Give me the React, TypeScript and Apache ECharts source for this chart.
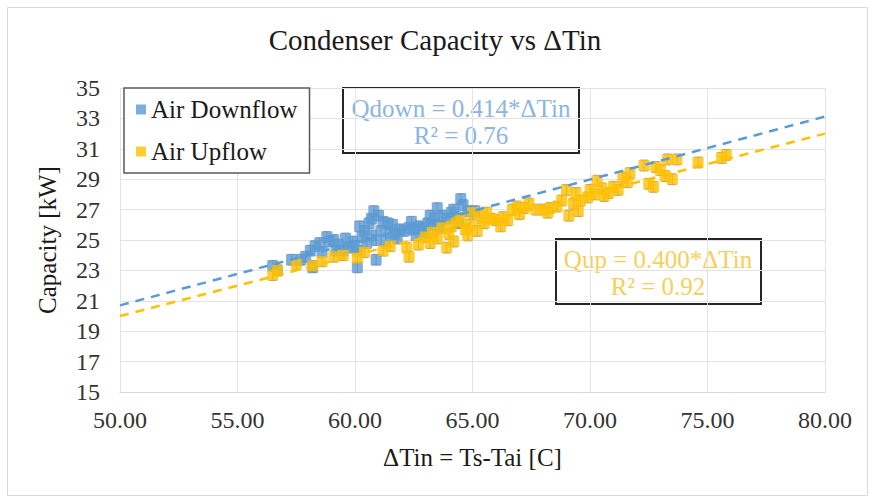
import React, { useEffect, useRef } from "react";
import * as echarts from "echarts";

// Measured condenser capacity [kW] against inlet temperature difference ΔTin [C]
const downflowPoints: [number, number][] = [
  [56.5, 23.3], [56.7, 23.0], [57.3, 23.7], [57.7, 23.7], [57.9, 23.9], [58.1, 24.3],
  [58.2, 23.2], [58.3, 24.6], [58.5, 24.8], [58.8, 25.2], [58.9, 24.9], [59.1, 25.0],
  [59.3, 24.7], [59.5, 24.3], [59.7, 24.5], [59.9, 24.9], [60.1, 23.2], [60.1, 24.3],
  [60.2, 25.9], [60.4, 25.6], [60.6, 26.1], [60.7, 26.4], [60.8, 26.9], [61.0, 26.6],
  [60.9, 23.7], [61.1, 25.6], [61.2, 26.2], [61.4, 26.1], [61.5, 25.5], [61.7, 25.4],
  [61.9, 25.7], [62.1, 25.6], [62.3, 25.8], [62.5, 25.7], [62.7, 25.9], [62.9, 25.8],
  [63.1, 26.1], [63.3, 26.0], [63.4, 26.4], [63.5, 27.1], [63.7, 26.6], [63.9, 26.4],
  [64.1, 26.8], [64.3, 26.5], [64.5, 27.7], [64.6, 27.3], [64.8, 26.9], [65.1, 26.9],
  [59.6, 25.1], [60.3, 25.2], [61.6, 26.0], [62.4, 26.2], [63.2, 26.6], [64.2, 27.0],
  [58.6, 24.2], [59.2, 24.3], [60.0, 24.6], [60.5, 24.8], [60.7, 25.3], [60.9, 25.0],
  [61.3, 24.9], [61.8, 25.1], [62.6, 25.3], [63.0, 25.5], [63.6, 25.9], [64.4, 26.1],
];

const upflowPoints: [number, number][] = [
  [56.5, 22.7], [56.7, 23.0], [57.5, 23.4], [58.2, 23.3], [58.6, 23.6], [59.1, 23.9],
  [59.5, 24.0], [60.1, 23.8], [60.4, 24.2], [61.2, 24.3], [61.5, 24.6], [62.2, 24.5],
  [62.3, 23.9], [63.0, 25.2], [63.3, 25.5], [63.5, 25.1], [63.7, 25.8], [63.9, 24.5],
  [64.1, 25.9], [64.3, 26.2], [64.5, 26.3], [64.7, 25.7], [64.9, 26.0], [65.0, 26.8],
  [65.3, 26.6], [65.6, 26.8], [65.8, 26.4], [66.0, 26.3], [66.3, 26.5], [66.5, 26.3],
  [66.7, 27.0], [66.9, 27.2], [67.2, 27.1], [67.4, 27.4], [67.7, 27.0], [68.0, 27.0],
  [68.3, 27.1], [68.6, 27.2], [68.8, 27.6], [69.0, 28.3], [69.1, 26.6], [69.3, 27.4],
  [69.4, 28.1], [69.6, 27.6], [69.9, 27.8], [70.0, 28.3], [70.2, 28.0], [70.3, 28.9],
  [70.5, 28.4], [70.8, 28.1], [71.0, 28.5], [71.2, 28.3], [71.4, 29.1], [71.6, 28.8],
  [71.7, 29.4], [72.3, 29.9], [72.5, 28.7], [72.7, 28.5], [72.8, 29.8], [73.0, 29.6],
  [73.2, 29.2], [73.3, 30.3], [73.5, 29.0], [73.7, 30.3], [74.6, 30.1], [75.6, 30.4],
  [75.8, 30.6], [64.0, 25.4], [65.5, 26.1], [67.0, 26.7], [68.2, 26.8], [70.6, 27.9],
  [62.7, 24.7], [63.2, 24.8], [64.2, 24.9], [64.8, 25.3], [65.2, 25.6], [66.2, 25.9],
  [69.5, 26.9],
];

// Measurement uncertainty on capacity [kW], drawn as error-bar caps
const capacityError = 0.35;

// Fitted trend lines through the origin: Q = slope * ΔTin
const downflowSlope = 0.414;
const upflowSlope = 0.4;
const downflowR2 = "0.76";
const upflowR2 = "0.92";
const trendRange = [50, 80];

const xTicks = { min: 50, max: 80, interval: 5 };
const yTicks = { min: 15, max: 35, interval: 2 };

const BLUE = "#5b9bd5";
const ORANGE = "#ffc000";
const FONT = "Liberation Serif";

// Custom series drawing short caps above and below each point
function errorCaps(points: [number, number][], z: number) {
  return {
    type: "custom",
    silent: true,
    z,
    data: points.map(([x, y]) => [x, y - capacityError, y + capacityError]),
    renderItem: (_params: any, api: any) => {
      const lo = api.coord([api.value(0), api.value(1)]);
      const hi = api.coord([api.value(0), api.value(2)]);
      const half = 4;
      const style = { stroke: "#8c8c8c", lineWidth: 1.2, opacity: 0.85 };
      return {
        type: "group",
        children: [
          { type: "line", shape: { x1: lo[0] - half, y1: lo[1], x2: lo[0] + half, y2: lo[1] }, style },
          { type: "line", shape: { x1: hi[0] - half, y1: hi[1], x2: hi[0] + half, y2: hi[1] }, style },
          { type: "line", shape: { x1: lo[0], y1: lo[1], x2: hi[0], y2: hi[1] }, style },
        ],
      };
    },
  };
}

function boxText(text: string, x: number, y: number, color: string) {
  return {
    type: "text",
    x,
    y,
    style: {
      text,
      fontFamily: FONT,
      fontSize: 25,
      fill: color,
      align: "center",
      verticalAlign: "middle",
    },
  };
}

export default function App() {
  const ref = useRef<HTMLDivElement>(null);

  useEffect(() => {
    if (!ref.current) return;
    const chart = echarts.init(ref.current, null, { renderer: "svg" });

    const trend = (slope: number) => trendRange.map((x) => [x, +(slope * x).toFixed(3)]);

    chart.setOption({
      animation: false,
      backgroundColor: "#ffffff",
      textStyle: { fontFamily: FONT },
      title: {
        text: "Condenser Capacity vs ΔTin",
        left: "center",
        top: 20,
        textStyle: { fontFamily: FONT, fontSize: 29, fontWeight: "normal", color: "#1a1a1a" },
      },
      grid: { left: 120, right: 45, top: 88, bottom: 106 },
      legend: {
        left: 124,
        top: 88,
        orient: "vertical",
        backgroundColor: "#ffffff",
        borderColor: "#595959",
        borderWidth: 1.5,
        borderRadius: 0,
        padding: [9, 12, 9, 12],
        itemGap: 17,
        itemWidth: 10,
        itemHeight: 10,
        icon: "rect",
        data: ["Air Downflow", "Air Upflow"],
        textStyle: { fontFamily: FONT, fontSize: 25, color: "#1a1a1a" },
        z: 10,
      },
      xAxis: {
        type: "value",
        min: xTicks.min,
        max: xTicks.max,
        interval: xTicks.interval,
        name: "ΔTin = Ts-Tai [C]",
        nameLocation: "middle",
        nameGap: 53,
        nameTextStyle: { fontFamily: FONT, fontSize: 25, color: "#1a1a1a" },
        axisLine: { lineStyle: { color: "#d9d9d9" } },
        axisTick: { show: false },
        axisLabel: {
          margin: 16,
          fontFamily: FONT,
          fontSize: 24,
          color: "#333333",
          formatter: (v: number) => v.toFixed(2),
        },
        splitLine: { show: true, lineStyle: { color: "#e3e3e3" } },
      },
      yAxis: {
        type: "value",
        min: yTicks.min,
        max: yTicks.max,
        interval: yTicks.interval,
        name: "Capacity [kW]",
        nameLocation: "middle",
        nameGap: 60,
        nameTextStyle: { fontFamily: FONT, fontSize: 25, color: "#1a1a1a" },
        axisLine: { show: false },
        axisTick: { show: false },
        axisLabel: { margin: 20, fontFamily: FONT, fontSize: 24, color: "#333333" },
        splitLine: { show: true, lineStyle: { color: "#e3e3e3" } },
      },
      series: [
        errorCaps(downflowPoints, 2),
        {
          name: "Air Downflow",
          type: "scatter",
          symbol: "rect",
          symbolSize: 11,
          itemStyle: { color: BLUE },
          data: downflowPoints,
          z: 3,
        },
        errorCaps(upflowPoints, 3),
        {
          name: "Air Upflow",
          type: "scatter",
          symbol: "rect",
          symbolSize: 11,
          itemStyle: { color: ORANGE },
          data: upflowPoints,
          z: 4,
        },
        {
          name: "Downflow trend",
          type: "line",
          data: trend(downflowSlope),
          showSymbol: false,
          lineStyle: { color: BLUE, width: 2.5, type: [9, 7] },
          z: 5,
        },
        {
          name: "Upflow trend",
          type: "line",
          data: trend(upflowSlope),
          showSymbol: false,
          lineStyle: { color: ORANGE, width: 2.5, type: [9, 7] },
          z: 5,
        },
      ],
      graphic: [
        {
          type: "rect",
          left: 5,
          top: 5,
          shape: { width: 860, height: 488 },
          style: { fill: "none", stroke: "#d9d9d9", lineWidth: 1 },
          silent: true,
          z: -1,
        },
        {
          type: "group",
          left: 342,
          top: 87,
          z: 20,
          children: [
            {
              type: "rect",
              shape: { x: 0, y: 0, width: 236, height: 65 },
              style: { fill: "#ffffff", stroke: "#262626", lineWidth: 2 },
            },
            boxText(`Qdown = ${downflowSlope.toFixed(3)}*ΔTin`, 118, 20, "#8db4e2"),
            boxText(`R² = ${downflowR2}`, 118, 47, "#8db4e2"),
          ],
        },
        {
          type: "group",
          left: 555,
          top: 238,
          z: 20,
          children: [
            {
              type: "rect",
              shape: { x: 0, y: 0, width: 205, height: 65 },
              style: { fill: "#ffffff", stroke: "#262626", lineWidth: 2 },
            },
            boxText(`Qup = ${upflowSlope.toFixed(3)}*ΔTin`, 102, 20, "#f6cf5a"),
            boxText(`R² = ${upflowR2}`, 102, 47, "#f6cf5a"),
          ],
        },
      ],
    });

    return () => chart.dispose();
  }, []);

  return (
    <div
      ref={ref}
      style={{ position: "fixed", left: 0, top: 0, width: 870, height: 498 }}
    />
  );
}
